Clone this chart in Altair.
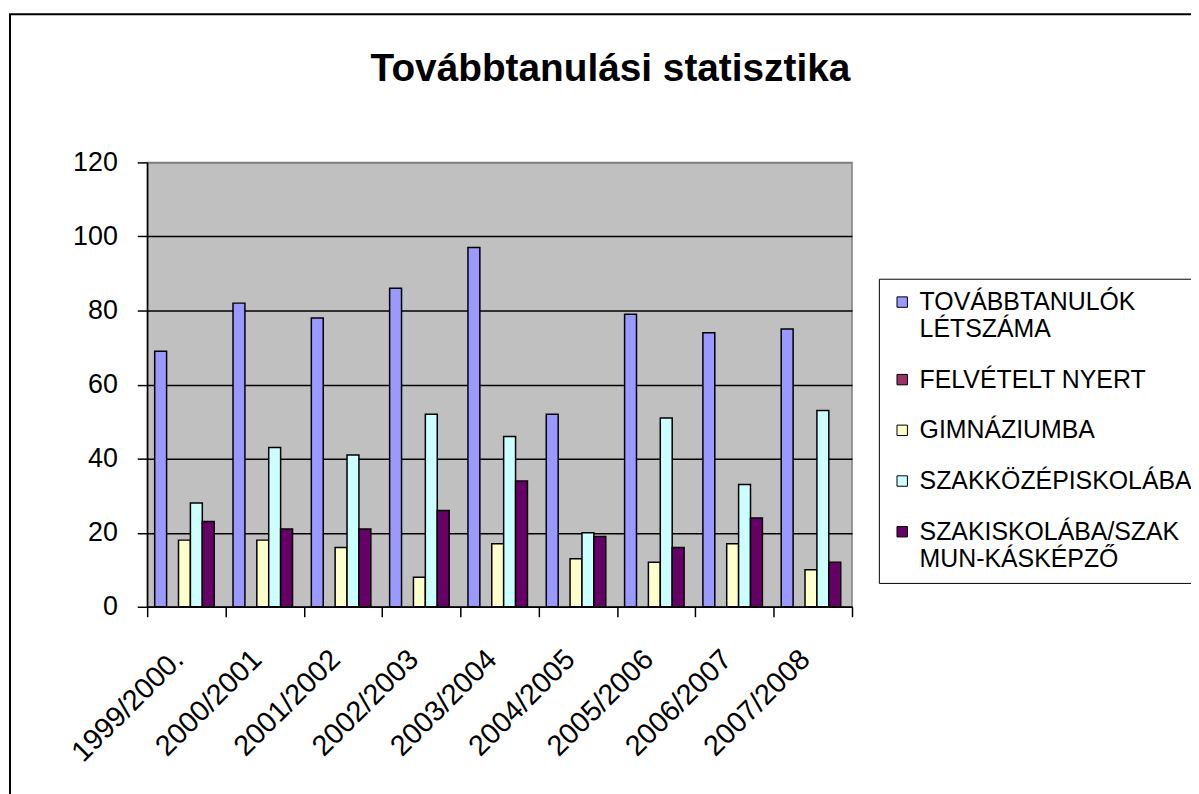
import altair as alt
import pandas as pd

title_text = "Továbbtanulási statisztika"
years = ["1999/2000.", "2000/2001", "2001/2002", "2002/2003", "2003/2004",
         "2004/2005", "2005/2006", "2006/2007", "2007/2008"]
series = ["TOVÁBBTANULÓK LÉTSZÁMA", "FELVÉTELT NYERT", "GIMNÁZIUMBA",
          "SZAKKÖZÉPISKOLÁBA", "SZAKISKOLÁBA/SZAK MUN-KÁSKÉPZŐ"]
colors = ["#9999FF", "#993366", "#FFFFCC", "#CCFFFF", "#660066"]

tovabbtanulok = [69, 82, 78, 86, 97, 52, 79, 74, 75]
felvetelt_nyert = [None, None, None, None, None, None, None, None, None]
gimnazium = [18, 18, 16, 8, 17, 13, 12, 17, 10]
szakkozep = [28, 43, 41, 52, 46, 20, 51, 33, 53]
szakiskola = [23, 21, 21, 26, 34, 19, 16, 24, 12]

y_ticks = [0, 20, 40, 60, 80, 100, 120]

rows = []
for s, vals in zip(series, [tovabbtanulok, felvetelt_nyert, gimnazium, szakkozep, szakiskola]):
    for yr, v in zip(years, vals):
        if v is not None:
            rows.append({"year": yr, "series": s, "value": v})
df = pd.DataFrame(rows)

FONT = "Liberation Sans"

label_expr = (
    "datum.label == 'TOVÁBBTANULÓK LÉTSZÁMA' ? ['TOVÁBBTANULÓK', 'LÉTSZÁMA'] : "
    "datum.label == 'SZAKISKOLÁBA/SZAK MUN-KÁSKÉPZŐ' ? ['SZAKISKOLÁBA/SZAK', 'MUN-KÁSKÉPZŐ'] : datum.label"
)

bars = alt.Chart(df).mark_bar(stroke="black", strokeWidth=1.5).encode(
    x=alt.X("year:N", sort=years,
            scale=alt.Scale(paddingInner=0, paddingOuter=0),
            axis=alt.Axis(title=None, labelAngle=-45, labelAlign="right", labelBaseline="top",
                          labelFontSize=29, labelFont=FONT, labelColor="black",
                          labelOffset=-18, labelPadding=28, tickBand="extent",
                          tickSize=10, tickColor="black", tickWidth=1.5,
                          domainColor="black", domainWidth=1.5, grid=False)),
    xOffset=alt.XOffset("series:N", scale=alt.Scale(domain=series, paddingInner=0,
                                                     paddingOuter=0.79, align=0.4)),
    y=alt.Y("value:Q", scale=alt.Scale(domain=[0, 120]),
            axis=alt.Axis(title=None, values=y_ticks, labelFontSize=27, labelFont=FONT,
                          labelColor="black", labelPadding=20, tickSize=10,
                          tickColor="black", tickWidth=1.5, domainColor="black",
                          domainWidth=1.5, gridWidth=1.5,
                          gridColor={"condition": {"test": "datum.value == 120", "value": "#808080"},
                                     "value": "black"})),
    color=alt.Color("series:N",
                    scale=alt.Scale(domain=series, range=colors),
                    legend=alt.Legend(title=None, orient="none", legendX=736, legendY=117,
                                      strokeColor="black", fillColor="white", padding=11,
                                      symbolType="square", symbolSize=110,
                                      symbolStrokeColor="black", symbolStrokeWidth=1,
                                      labelFontSize=25, labelFont=FONT, labelColor="black",
                                      labelLimit=600, labelOffset=5, rowPadding=25,
                                      labelExpr=label_expr)),
)

frame = alt.Chart(alt.Data(values=[{"a": 1}])).mark_rect(
    filled=False, stroke="black", strokeWidth=2
).encode(
    x=alt.value(-138), x2=alt.value(1300), y=alt.value(-149), y2=alt.value(1000)
)

title = alt.Chart(alt.Data(values=[{"t": title_text}])).mark_text(
    font=FONT, fontSize=39, fontWeight="bold", color="black",
    align="center", baseline="alphabetic"
).encode(
    text="t:N", x=alt.value(466), y=alt.value(-82)
)

chart = alt.layer(frame, bars, title).properties(
    width=709, height=447,
    autosize=alt.AutoSizeParams(type="none"),
    padding={"left": 140, "top": 153, "right": 341, "bottom": 186},
).configure_view(fill="#C0C0C0", stroke="#808080", strokeWidth=1.5)

chart.save("out.html", embed_options={"renderer": "svg", "actions": False})
